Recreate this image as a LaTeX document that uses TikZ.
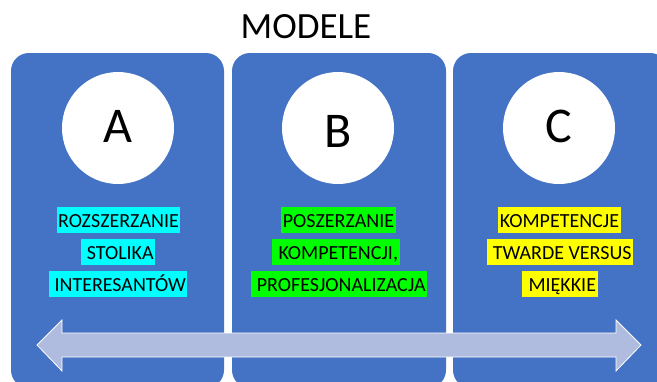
\documentclass[tikz,border=0pt]{standalone}
\usepackage{fontspec}
\setmainfont{Carlito}
\definecolor{boxblue}{HTML}{4472C4}
\definecolor{arrowfill}{HTML}{AFBCDF}
\definecolor{hlcyan}{HTML}{00FFFF}
\definecolor{hlgreen}{HTML}{00FF00}
\definecolor{hlyellow}{HTML}{FFFF00}
\tikzset{
  panel/.style={fill=boxblue, draw=none, rounded corners=18pt},
  disc/.style={circle, fill=white, draw=none, minimum size=112pt, inner sep=0pt},
  letter/.style={font=\fontsize{50}{60}\selectfont, anchor=base, inner sep=0pt},
  hl/.style={font=\fontsize{20}{24}\selectfont, anchor=base, inner xsep=1.5pt, inner ysep=0pt, text height=20pt, text depth=6pt, text=black},
  hla/.style={hl, fill=hlcyan},
  hlb/.style={hl, fill=hlgreen},
  hlc/.style={hl, fill=hlyellow},
  bigarrow/.style={fill=arrowfill, draw=white, line width=0.8pt, line join=miter}
}
\begin{document}
\begin{tikzpicture}[x=1pt,y=-1pt]
\useasboundingbox (0,0) rectangle (657,381);
\clip (0,0) rectangle (657,381);
\fill[white] (0,0) rectangle (657,381);
% title
\node[font=\fontsize{37}{44}\selectfont, anchor=base, inner sep=0pt] (title) at (306,38) {MODELE};
% panels
\fill[panel] (11,53) rectangle (224,388);
\fill[panel] (232,53) rectangle (446,388);
\fill[panel] (453,53) rectangle (668,388);
% discs
\node[disc] (ca) at (118,128) {};
\node[disc] (cb) at (338,128) {};
\node[disc] (cc) at (559,128) {};
\node[letter] (la) at (118,142) {A};
\node[letter] (lb) at (338,147) {B};
\node[letter] (lc) at (559,142) {C};
% labels
\node[hla] (a1) at (118.5,227) {ROZSZERZANIE};
\node[hla] (a2) at (118,259) {\ STOLIKA};
\node[hla] (a3) at (118,291) {\ INTERESANTÓW};
\node[hlb] (b1) at (338.5,227) {POSZERZANIE};
\node[hlb] (b2) at (336,259) {\ KOMPETENCJI,};
\node[hlb] (b3) at (339,291) {\ PROFESJONALIZACJA};
\node[hlc] (c1) at (559.5,227) {KOMPETENCJE};
\node[hlc] (c2) at (560,259) {\ TWARDE VERSUS};
\node[hlc] (c3) at (560,291) {\ MIĘKKIE};
% double arrow
\draw[bigarrow] (37,345) -- (62,320) -- (62,333) -- (616,333) -- (616,320) -- (641,345)
  -- (616,371) -- (616,357) -- (62,357) -- (62,371) -- cycle;
\end{tikzpicture}
\end{document}
